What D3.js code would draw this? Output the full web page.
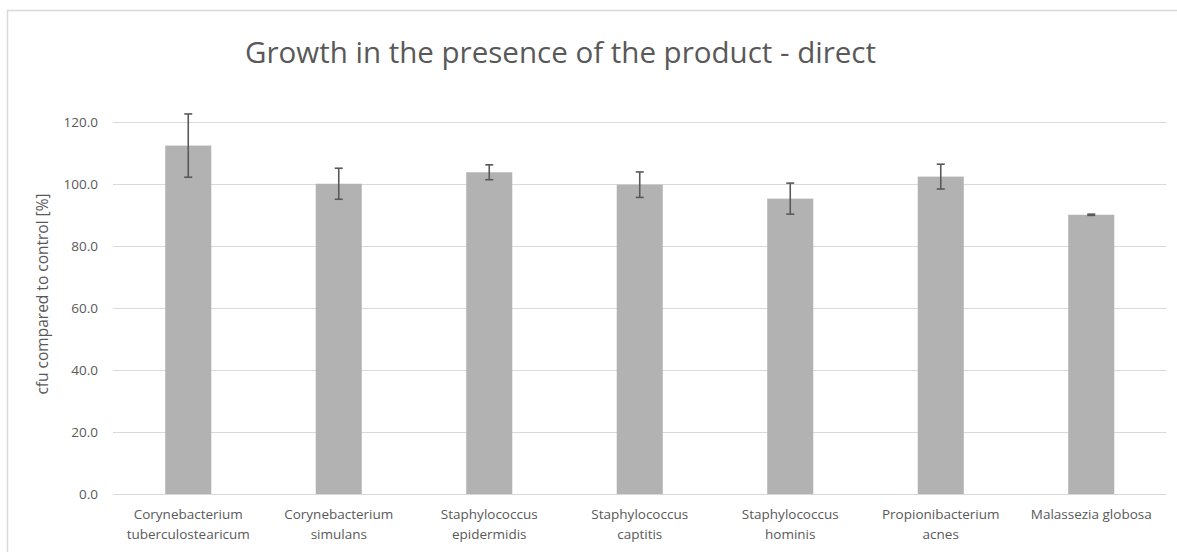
<!DOCTYPE html>
<html>
<head>
<meta charset="utf-8">
<script src="https://cdn.jsdelivr.net/npm/d3@7/dist/d3.min.js"></script>
<style>
  body { margin: 0; background: #fff; }
  text { font-family: "Open Sans", "Noto Sans", sans-serif; fill: #595959; }
</style>
</head>
<body>
<svg id="chart" width="1177" height="552"></svg>
<script>
// Data
const categories = [
  ["Corynebacterium", "tuberculostearicum"],
  ["Corynebacterium", "simulans"],
  ["Staphylococcus", "epidermidis"],
  ["Staphylococcus", "captitis"],
  ["Staphylococcus", "hominis"],
  ["Propionibacterium", "acnes"],
  ["Malassezia globosa"]
];
const values = [112.3, 100.0, 103.7, 99.7, 95.2, 102.3, 90.0];
const errors = [10.2, 5.0, 2.4, 4.1, 5.0, 4.0, 0.2];
const yTicks = [0, 20, 40, 60, 80, 100, 120];

const names = categories.map(c => c.join(" "));

const svg = d3.select("#chart");

// chart frame
svg.append("path")
  .attr("d", "M7.5,552 V10.5 H1177")
  .attr("fill", "none")
  .attr("stroke", "#d9d9d9")
  .attr("stroke-width", 1.5);

// scales
const x = d3.scaleBand()
  .domain(names)
  .range([113, 1166.5])
  .paddingInner(0.694)
  .paddingOuter(0.347);
const y = d3.scaleLinear().domain([0, 120]).range([494, 121.7]);

// gridlines
svg.append("g")
  .selectAll("line")
  .data(yTicks)
  .join("line")
  .attr("x1", 113)
  .attr("x2", 1166.5)
  .attr("y1", d => Math.round(y(d)) + 0.5)
  .attr("y2", d => Math.round(y(d)) + 0.5)
  .attr("stroke", "#d9d9d9")
  .attr("stroke-width", 1.2);

// y-axis labels
const yAxis = d3.axisLeft(y)
  .tickValues(yTicks)
  .tickSize(0)
  .tickPadding(15)
  .tickFormat(d3.format(".1f"));
const yAxisG = svg.append("g")
  .attr("transform", "translate(113,0)")
  .call(yAxis);
yAxisG.select(".domain").remove();
yAxisG.selectAll("text")
  .style("font-size", "13.5px")
  .attr("fill", "#595959");

// bars
svg.append("g")
  .selectAll("rect")
  .data(values)
  .join("rect")
  .attr("x", (d, i) => x(names[i]))
  .attr("y", d => y(d))
  .attr("width", x.bandwidth())
  .attr("height", d => y(0) - y(d))
  .attr("fill", "#b2b2b2");

// error bars
const errG = svg.append("g")
  .attr("stroke", "#595959")
  .attr("stroke-width", 1.6);
values.forEach((v, i) => {
  const cx = x(names[i]) + x.bandwidth() / 2;
  const top = y(v + errors[i]);
  const bot = y(v - errors[i]);
  errG.append("line").attr("x1", cx).attr("x2", cx).attr("y1", top).attr("y2", bot);
  errG.append("line").attr("x1", cx - 4).attr("x2", cx + 4).attr("y1", top).attr("y2", top);
  errG.append("line").attr("x1", cx - 4).attr("x2", cx + 4).attr("y1", bot).attr("y2", bot);
});

// x-axis category labels
const xLabels = svg.append("g")
  .selectAll("text")
  .data(categories)
  .join("text")
  .attr("text-anchor", "middle")
  .attr("x", (d, i) => x(names[i]) + x.bandwidth() / 2)
  .attr("y", 519)
  .style("font-size", "13.5px");
xLabels.selectAll("tspan")
  .data(d => d)
  .join("tspan")
  .attr("x", function () { return d3.select(this.parentNode).attr("x"); })
  .attr("dy", (d, i) => i === 0 ? 0 : 20)
  .text(d => d);

// y-axis title
svg.append("text")
  .attr("transform", "translate(48,294) rotate(-90)")
  .attr("text-anchor", "middle")
  .style("font-size", "15.5px")
  .text("cfu compared to control [%]");

// chart title
svg.append("text")
  .attr("x", 245)
  .attr("y", 63)
  .attr("textLength", 631)
  .attr("lengthAdjust", "spacingAndGlyphs")
  .style("font-size", "30px")
  .text("Growth in the presence of the product - direct");
</script>
</body>
</html>
